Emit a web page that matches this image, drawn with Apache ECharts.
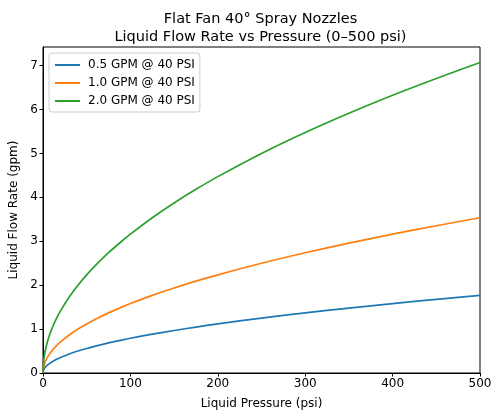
<!DOCTYPE html>
<html><head><meta charset="utf-8">
<script src="https://cdn.jsdelivr.net/npm/echarts@6/dist/echarts.min.js"></script>
<style>html,body{margin:0;padding:0;background:#fff}#c{width:500px;height:420px}</style>
</head><body><div id="c"></div>
<script>
const pressure = [0, 1, 2, 3, 5, 7, 10, 15, 20, 30, 40, 50, 60, 75, 90, 100, 125, 150, 175, 200, 250, 300, 350, 400, 450, 500];
const flow05 = [0, 0.079, 0.112, 0.137, 0.177, 0.209, 0.25, 0.306, 0.354, 0.433, 0.5, 0.559, 0.612, 0.685, 0.75, 0.791, 0.884, 0.968, 1.046, 1.118, 1.25, 1.369, 1.479, 1.581, 1.677, 1.768];
const flow10 = [0, 0.158, 0.224, 0.274, 0.354, 0.418, 0.5, 0.612, 0.707, 0.866, 1.0, 1.118, 1.225, 1.369, 1.5, 1.581, 1.768, 1.936, 2.092, 2.236, 2.5, 2.739, 2.958, 3.162, 3.354, 3.536];
const flow20 = [0, 0.316, 0.447, 0.548, 0.707, 0.837, 1.0, 1.225, 1.414, 1.732, 2.0, 2.236, 2.449, 2.739, 3.0, 3.162, 3.536, 3.873, 4.183, 4.472, 5.0, 5.477, 5.916, 6.325, 6.708, 7.071];
const seriesNames = ['0.5 GPM @ 40 PSI', '1.0 GPM @ 40 PSI', '2.0 GPM @ 40 PSI'];
const colors = ['#1f77b4', '#ff7f0e', '#2ca02c'];
const titleLines = 'Flat Fan 40° Spray Nozzles\nLiquid Flow Rate vs Pressure (0–500 psi)';
const xName = 'Liquid Pressure (psi)';
const yName = 'Liquid Flow Rate (gpm)';

const font = 'DejaVu Sans';
const allFlows = [flow05, flow10, flow20];
const chart = echarts.init(document.getElementById('c'), null, {renderer: 'canvas'});
chart.setOption({
  animation: false,
  backgroundColor: '#fff',
  title: {
    text: titleLines, left: 255.5, textAlign: 'center', top: 5,
    textStyle: {fontFamily: font, fontSize: 14.5, fontWeight: 'normal', color: '#000', lineHeight: 18}
  },
  legend: {
    data: seriesNames, orient: 'vertical', left: 49, top: 53,
    icon: 'rect', itemWidth: 25, itemHeight: 2, itemGap: 6,
    backgroundColor: 'rgba(255,255,255,0.8)', borderColor: '#ccc', borderWidth: 1, borderRadius: 3,
    padding: [6, 5, 5, 6],
    textStyle: {fontFamily: font, fontSize: 12, color: '#000', padding: [0, 0, 0, 3]}
  },
  grid: {left: 43, right: 20, top: 47, bottom: 47, show: true, borderColor: '#000', borderWidth: 1,
    containLabel: false, outerBoundsMode: 'none'},
  xAxis: {
    type: 'value', min: 0, max: 500, interval: 100,
    name: xName, nameLocation: 'middle', nameGap: 25,
    nameTextStyle: {fontFamily: font, fontSize: 12, color: '#000'},
    axisLine: {show: true, lineStyle: {color: '#000', width: 1}},
    axisTick: {show: true, length: 3.5, lineStyle: {color: '#000'}},
    axisLabel: {fontFamily: font, fontSize: 12, color: '#000', margin: 5},
    splitLine: {show: false}
  },
  yAxis: {
    type: 'value', min: 0, max: 7.424, interval: 1,
    name: yName, nameLocation: 'middle', nameGap: 19,
    nameTextStyle: {fontFamily: font, fontSize: 12, color: '#000'},
    axisLine: {show: true, lineStyle: {color: '#000', width: 1}},
    axisTick: {show: true, length: 3.5, lineStyle: {color: '#000'}},
    axisLabel: {fontFamily: font, fontSize: 12, color: '#000', margin: 5, showMaxLabel: false,
      formatter: v => (Math.abs(v - Math.round(v)) < 1e-6 ? String(Math.round(v)) : '')},
    splitLine: {show: false}
  },
  series: seriesNames.map((n, i) => ({
    name: n, type: 'line', showSymbol: false, smooth: 0.3,
    color: colors[i],
    lineStyle: {width: 1.7, color: colors[i]},
    data: pressure.map((p, j) => [p, allFlows[i][j]])
  }))
});
</script></body></html>
